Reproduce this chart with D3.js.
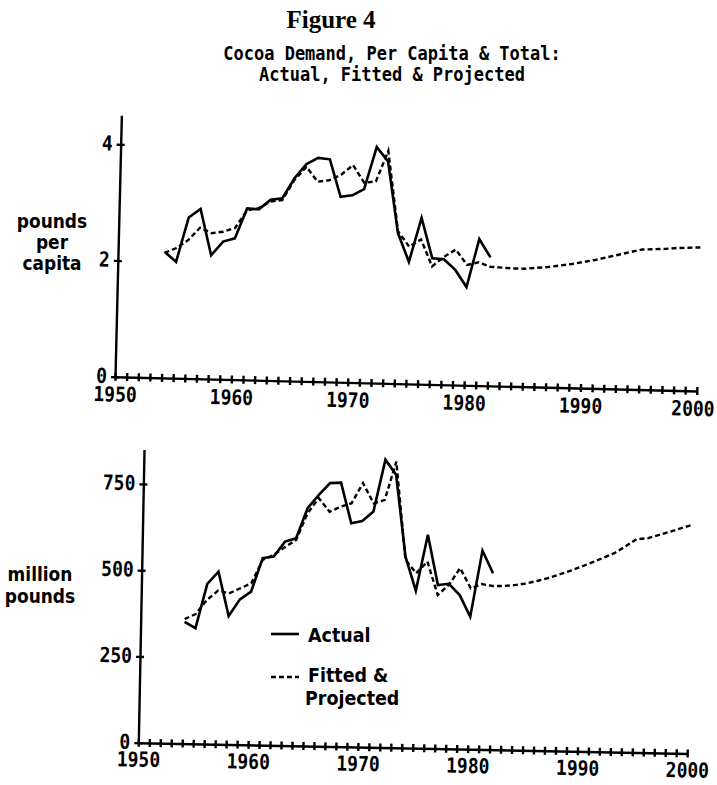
<!DOCTYPE html>
<html>
<head>
<meta charset="utf-8">
<script src="https://cdn.jsdelivr.net/npm/d3@7"></script>
<style>
body { margin: 0; background: #fff; }
svg { display: block; }
.mono { font-family: "DejaVu Sans Mono", monospace; font-weight: bold; fill: #000;
        transform-box: fill-box; transform-origin: center; transform: scaleY(1.15); }
.prop { font-family: "DejaVu Sans", sans-serif; font-weight: bold; fill: #000;
        transform-box: fill-box; transform-origin: center; transform: scaleY(1.1); }
.axis path, .axis line { stroke: #000; stroke-width: 2.4; }
</style>
</head>
<body>
<svg id="chart" width="717" height="785"></svg>
<script>
// data (1954-1982 actual, fitted + projected to 2000)
const allYears = d3.range(1950, 2001);
const actualYears = d3.range(1954, 1983);
const fittedYears = d3.range(1954, 2001);
const decadeLabels = [1950, 1960, 1970, 1980, 1990, 2000];

const perCapitaActual = [2.17, 2.00, 2.77, 2.92, 2.13, 2.37, 2.43, 2.95, 2.94, 3.11,
  3.14, 3.49, 3.74, 3.85, 3.83, 3.19, 3.22, 3.33, 4.06, 3.82,
  2.59, 2.10, 2.86, 2.17, 2.16, 1.98, 1.69, 2.52, 2.21];
const perCapitaFitted = [2.15, 2.24, 2.38, 2.60, 2.51, 2.54, 2.61, 2.92, 2.96, 3.08,
  3.11, 3.46, 3.69, 3.44, 3.47, 3.57, 3.74, 3.44, 3.47, 4.00,
  2.62, 2.36, 2.49, 2.03, 2.20, 2.33, 2.07, 2.12, 2.05,
  2.04, 2.03, 2.03, 2.05, 2.07, 2.10, 2.13, 2.17, 2.21, 2.26,
  2.31, 2.36, 2.41, 2.42, 2.43, 2.45, 2.46, 2.47];
const perCapitaTicks = [0, 2, 4];

const totalActual = [353, 335, 464, 500, 372, 421, 444, 542, 547, 591,
  601, 689, 728, 763, 765, 648, 655, 683, 834, 791,
  554, 456, 619, 474, 478, 446, 384, 576, 511];
const totalFitted = [361, 376, 418, 445, 438, 453, 468, 537, 552, 575,
  596, 674, 719, 680, 695, 706, 765, 707, 717, 829,
  545, 507, 541, 445, 475, 524, 466, 479, 474,
  475, 478, 483, 491, 500, 511, 522, 535, 548, 562,
  576, 596, 618, 621, 631, 641, 652, 662];
const totalTicks = [0, 250, 500, 750];

const svg = d3.select('#chart');

svg.append('text')
  .attr('x', 331).attr('y', 28)
  .attr('text-anchor', 'middle')
  .style('font-family', '"Liberation Serif", serif')
  .style('font-weight', 'bold')
  .style('font-size', '25px')
  .text('Figure 4');

const subtitle = ['Cocoa Demand, Per Capita & Total:', 'Actual, Fitted & Projected'];
subtitle.forEach(function (t, i) {
  svg.append('text')
    .attr('class', 'mono')
    .attr('x', 392).attr('y', 59 + i * 21)
    .attr('text-anchor', 'middle')
    .style('font-size', '17px')
    .text(t);
});

// the scan is slightly rotated, so each panel gets its own origin + angle
function drawPanel(p) {
  const g = svg.append('g')
    .attr('transform', 'translate(' + p.ox + ',' + p.oy + ') rotate(' + p.angle + ')');

  const x = d3.scaleLinear().domain([1950, 2000]).range([0, p.width]);
  const y = d3.scaleLinear().domain([0, p.ymax]).range([0, -p.height]);

  const xAxis = g.append('g').attr('class', 'axis')
    .call(d3.axisBottom(x).tickValues(allYears).tickSizeInner(4).tickSizeOuter(0)
      .tickFormat(function (d) { return decadeLabels.indexOf(d) >= 0 ? d : ''; }));
  xAxis.selectAll('.tick line').attr('y1', -4);
  xAxis.selectAll('.tick text')
    .attr('class', 'mono').attr('dy', null).attr('y', p.xLabelY)
    .attr('dx', function (d) { return d === 2000 ? p.lastShift : 0; })
    .style('font-size', '18px');

  const yAxis = g.append('g').attr('class', 'axis')
    .call(d3.axisLeft(y).tickValues(p.ticks).tickSizeInner(4).tickSizeOuter(0)
      .tickFormat(d3.format('d')));
  yAxis.selectAll('.tick line').attr('x1', 4);
  yAxis.selectAll('.tick text')
    .attr('class', 'mono').attr('x', -8).attr('dy', '0.28em')
    .style('font-size', '18px');
  g.selectAll('.axis').attr('font-family', null).attr('font-size', null);

  const line = d3.line()
    .x(function (d) { return x(d[0]); })
    .y(function (d) { return y(d[1]); });

  g.append('path')
    .datum(d3.zip(p.fittedYears, p.fitted))
    .attr('d', line)
    .attr('fill', 'none').attr('stroke', '#000')
    .attr('stroke-width', 2.4).attr('stroke-dasharray', '5,3');

  g.append('path')
    .datum(d3.zip(p.actualYears, p.actual))
    .attr('d', line)
    .attr('fill', 'none').attr('stroke', '#000')
    .attr('stroke-width', 2.6);
}

drawPanel({
  ox: 115, oy: 376.7, angle: 1.4, width: 582, height: 261.5, ymax: 4.5,
  ticks: perCapitaTicks, xLabelY: 24, lastShift: -4,
  actualYears: actualYears, actual: perCapitaActual,
  fittedYears: fittedYears, fitted: perCapitaFitted
});

drawPanel({
  ox: 138.3, oy: 742.7, angle: 1.12, width: 549, height: 293.3, ymax: 850,
  ticks: totalTicks, xLabelY: 23, lastShift: 0,
  actualYears: actualYears, actual: totalActual,
  fittedYears: fittedYears, fitted: totalFitted
});

// axis titles
function label(lines, cx, y0, step) {
  lines.forEach(function (t, i) {
    svg.append('text')
      .attr('class', 'prop')
      .attr('x', cx).attr('y', y0 + i * step)
      .attr('text-anchor', 'middle')
      .style('font-size', '17px')
      .text(t);
  });
}
label(['pounds', 'per', 'capita'], 52, 227, 21);
label(['million', 'pounds'], 40, 580, 22);

// legend
const legend = svg.append('g');
legend.append('line').attr('x1', 271).attr('x2', 299).attr('y1', 634).attr('y2', 634)
  .attr('stroke', '#000').attr('stroke-width', 2.6);
legend.append('line').attr('x1', 271).attr('x2', 299).attr('y1', 677).attr('y2', 677)
  .attr('stroke', '#000').attr('stroke-width', 2.4).attr('stroke-dasharray', '5,3');
[['Actual', 308, 641], ['Fitted &', 308, 681], ['Projected', 305, 704]].forEach(function (d) {
  legend.append('text').attr('class', 'prop')
    .attr('x', d[1]).attr('y', d[2])
    .style('font-size', '17.5px')
    .text(d[0]);
});
</script>
</body>
</html>
